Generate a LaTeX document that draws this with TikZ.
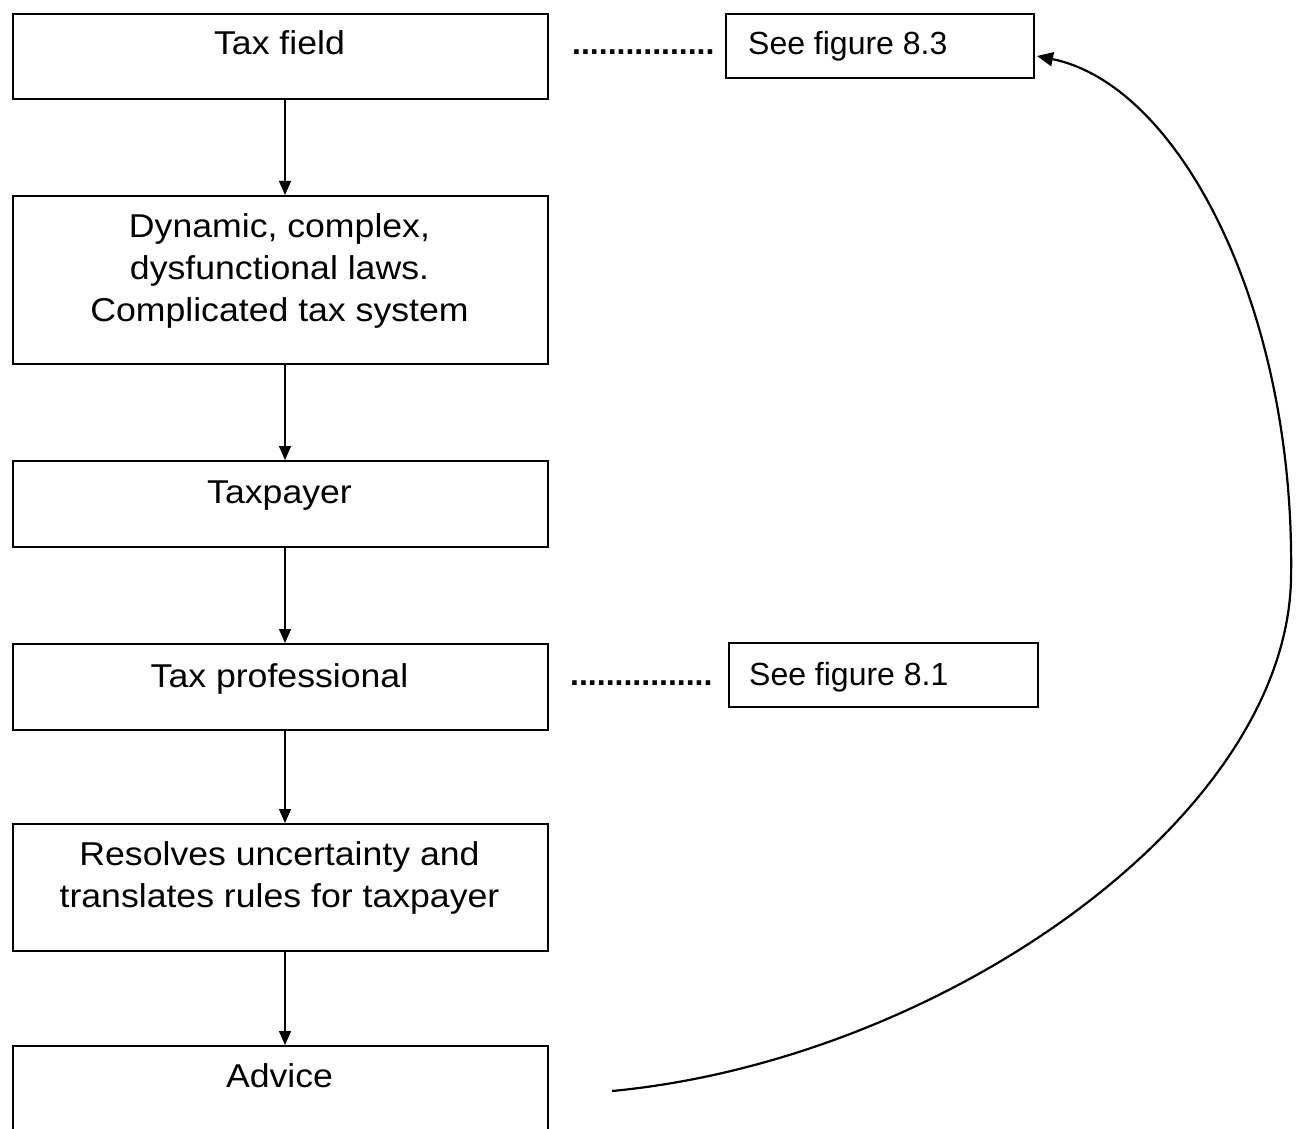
\documentclass[tikz,border=0pt]{standalone}
\usepackage{fontspec}
\setmainfont{Liberation Sans}
\newfontfamily\widefont{Liberation Sans}[FakeStretch=1.08]
\usetikzlibrary{arrows.meta,calc}
\begin{document}
\begin{tikzpicture}[x=1pt,y=-1pt,
  box/.style={draw, line width=1.8pt, minimum width=535pt, inner sep=0pt, anchor=north west},
  refbox/.style={draw, line width=1.8pt, inner sep=0pt, anchor=north west},
  txt/.style={inner sep=0pt, anchor=base, align=center, font=\widefont\fontsize{33}{42}\selectfont},
  reftxt/.style={inner sep=0pt, anchor=base west, font=\fontsize{32}{40}\selectfont},
  dots/.style={inner sep=0pt, anchor=base west, font=\fontsize{32}{40}\selectfont\bfseries},
  arr/.style={line width=1.4pt, -{Triangle[length=14pt,width=12pt]}},
  curvearr/.style={line width=2.2pt, -{Triangle[length=16pt,width=14pt]}}
]
\useasboundingbox[fill=white] (0,0) rectangle (1302,1129);
% left column boxes
\node[box, minimum height=85pt] (tf) at (12,13) {};
\node[box, minimum height=168pt] (dyn) at (12,195) {};
\node[box, minimum height=86pt] (tp) at (12,460) {};
\node[box, minimum height=86pt] (prof) at (12,643) {};
\node[box, minimum height=127pt] (res) at (12,823) {};
\node[box, minimum height=130pt] (adv) at (12,1045) {};
% texts (base anchor = baseline of last line)
\node[txt] (tft) at (279.5,55) {Tax field};
\node[txt] (dynt) at (279.5,321) {Dynamic, complex,\\dysfunctional laws.\\Complicated tax system};
\node[txt] (tpt) at (279.5,503) {Taxpayer};
\node[txt] (proft) at (279.5,687) {Tax professional};
\node[txt] (rest) at (279.5,907) {Resolves uncertainty and\\translates rules for taxpayer};
\node[txt] (advt) at (279.5,1087) {Advice};
% reference boxes
\node[refbox, minimum width=308pt, minimum height=64pt] (s83) at (725,13) {};
\node[reftxt] (s83t) at (748,55) {See figure 8.3};
\node[refbox, minimum width=309pt, minimum height=64pt] (s81) at (728,642) {};
\node[reftxt] (s81t) at (749,685) {See figure 8.1};
% dotted leaders
\node[dots] (d1) at (572,55) {................};
\node[dots] (d2) at (570,685) {................};
% vertical arrows
\coordinate (ax) at (285,0);
\draw[arr] (tf.south -| ax) -- (dyn.north -| ax);
\draw[arr] (dyn.south -| ax) -- (tp.north -| ax);
\draw[arr] (tp.south -| ax) -- (prof.north -| ax);
\draw[arr] (prof.south -| ax) -- (res.north -| ax);
\draw[arr] (res.south -| ax) -- (adv.north -| ax);
% feedback curve
\coordinate (cstart) at (612,1091);
\coordinate (cmid) at (1291,580);
\coordinate (ctip) at (1037,56);
\draw[curvearr] (cstart) .. controls (940,1060) and (1285,820) .. (cmid)
  .. controls (1296,310) and (1180,85) .. (ctip);
\end{tikzpicture}
\end{document}
